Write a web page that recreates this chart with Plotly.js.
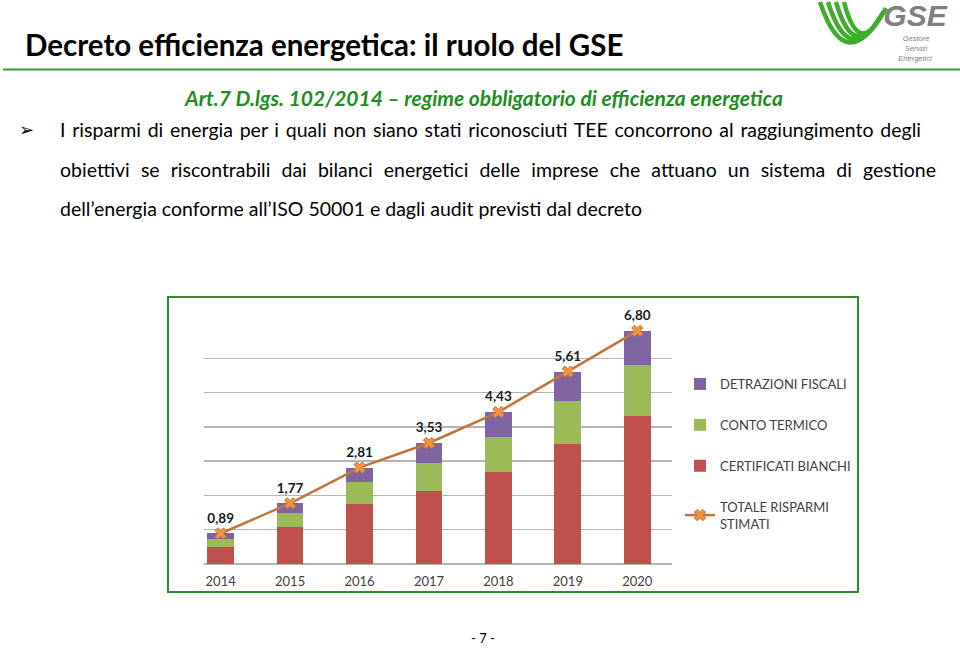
<!DOCTYPE html>
<html>
<head>
<meta charset="utf-8">
<script src="https://cdn.plot.ly/plotly-3.0.1.min.js"></script>
<style>
  html, body { margin: 0; padding: 0; background: #ffffff; }
  #page { position: relative; width: 960px; height: 648px; overflow: hidden; }
  #chart { position: absolute; left: 0; top: 0; width: 960px; height: 648px; }
  .txt { position: absolute; font-family: Lato, "Noto Sans", sans-serif; color: #000; white-space: nowrap; }
  .body { font-size: 19.5px; line-height: 20px; left: 60px; }
  .just { text-align: justify; text-align-last: justify; white-space: normal; }
  #logo { position: absolute; left: 0; top: 0; }
</style>
</head>
<body>
<div id="page">
  <div id="chart"></div>
  <svg id="logo" width="960" height="80" xmlns="http://www.w3.org/2000/svg">
    <line x1="3" y1="69.5" x2="960" y2="69.5" stroke="#3a9a3a" stroke-width="2"/>
    <g fill="none" stroke="#3fae2a" stroke-width="4.5" stroke-linecap="butt">
      <path d="M820,2 Q846,80 886,8"/>
      <path d="M828,2 Q850,72 884,11"/>
      <path d="M836,2 Q854,64 882,14"/>
      <path d="M844,2 Q858,56 880,17"/>
    </g>
    <text x="915" y="26" text-anchor="middle" font-family="Liberation Sans, Arial, sans-serif" font-weight="bold" font-style="italic" font-size="30" fill="#808080">GSE</text>
    <g font-family="Liberation Sans, Arial, sans-serif" font-style="italic" font-size="7.5" fill="#808080" text-anchor="middle">
      <text x="916" y="41">Gestore</text>
      <text x="916" y="51">Servizi</text>
      <text x="915" y="61">Energetici</text>
    </g>
  </svg>
  <div class="txt body" style="left:19px; top:120px; font-family:'DejaVu Sans'; font-size:18px;">&#10146;</div>
  <div class="txt body just" style="top:120px; width:861px;">I risparmi di energia per i quali non siano stati riconosciuti TEE concorrono al raggiungimento degli</div>
  <div class="txt body just" style="top:159.5px; width:876px;">obiettivi se riscontrabili dai bilanci energetici delle imprese che attuano un sistema di gestione</div>
  <div class="txt body" style="top:199px;">dell’energia conforme all’ISO 50001 e dagli audit previsti dal decreto</div>
</div>
<script>
// ---- data ----
const years = ["2014", "2015", "2016", "2017", "2018", "2019", "2020"];
const certificatiBianchi = [0.51, 1.07, 1.76, 2.12, 2.67, 3.51, 4.33];
const contoTermico = [0.22, 0.41, 0.62, 0.84, 1.04, 1.25, 1.48];
const detrazioniFiscali = [0.16, 0.29, 0.43, 0.57, 0.72, 0.85, 0.99];
const totaleRisparmi = [0.89, 1.77, 2.81, 3.53, 4.43, 5.61, 6.80];
const seriesNames = ["CERTIFICATI BIANCHI", "CONTO TERMICO", "DETRAZIONI FISCALI", "TOTALE RISPARMI<br>STIMATI"];

// ---- pixel helpers (plot area: x 204..672, y 324..564) ----
const L = 204, R = 672, T = 324, B = 564;
const px = v => (v - L) / (R - L);
const py = v => (B - v) / (B - T);

const font = "Lato, 'Noto Sans', sans-serif";

const traces = [
  { type: "bar", x: years, y: certificatiBianchi, name: seriesNames[0],
    marker: { color: "#C0504D" }, legendgroup: "a", legendrank: 3, hoverinfo: "skip" },
  { type: "bar", x: years, y: contoTermico, name: seriesNames[1],
    marker: { color: "#9BBB59" }, legendgroup: "b", legendrank: 2, hoverinfo: "skip" },
  { type: "bar", x: years, y: detrazioniFiscali, name: seriesNames[2],
    marker: { color: "#8064A2" }, legendgroup: "c", legendrank: 1, hoverinfo: "skip" },
  { type: "scatter", mode: "lines+markers+text", x: years, y: totaleRisparmi, name: seriesNames[3],
    line: { color: "#C0763A", width: 2.5 },
    marker: { symbol: "x", size: 10, color: "#F0943F", line: { color: "#C0763A", width: 1 } },
    texttemplate: "%{y:.2f}", textposition: "top center",
    textfont: { family: font, size: 13.5, color: "#1a1a1a", weight: "bold" },
    cliponaxis: false, legendgroup: "d", legendrank: 4, hoverinfo: "skip" }
];

const layout = {
  width: 960, height: 648,
  margin: { l: L, r: 960 - R, t: T, b: 648 - B, pad: 0 },
  paper_bgcolor: "#ffffff", plot_bgcolor: "#ffffff",
  separators: ",.",
  barmode: "stack",
  bargap: 0.615,
  font: { family: font, color: "#404040" },
  title: {
    text: "<b>Decreto efficienza energetica: il ruolo del GSE</b>",
    x: 25 / 960, xanchor: "left", xref: "container",
    y: 1 - 46 / 648, yanchor: "middle", yref: "container",
    font: { family: font, size: 29.5, color: "#000000" }
  },
  xaxis: {
    type: "category", range: [-0.24, 6.5], showgrid: false, zeroline: false,
    showline: false, ticks: "", ticklabelstandoff: 8,
    tickfont: { family: font, size: 13, color: "#404040" }, fixedrange: true
  },
  yaxis: {
    range: [0, 7], dtick: 1, showgrid: true, gridcolor: "#B4B4B4", gridwidth: 1.3,
    zeroline: true, zerolinecolor: "#B4B4B4", zerolinewidth: 1.3,
    showticklabels: false, ticks: "", fixedrange: true
  },
  showlegend: true,
  legend: {
    x: px(680), y: py(369), xanchor: "left", yanchor: "top",
    traceorder: "grouped", tracegroupgap: 21, itemwidth: 30,
    font: { family: font, size: 13, color: "#404040" },
    bgcolor: "rgba(0,0,0,0)"
  },
  shapes: [
    { type: "rect", xref: "paper", yref: "paper",
      x0: px(168), x1: px(858), y0: py(592), y1: py(297),
      line: { color: "#2E8B2E", width: 2 }, fillcolor: "rgba(0,0,0,0)", layer: "below" }
  ],
  annotations: [
    { xref: "paper", yref: "paper", x: px(483), y: py(97), xanchor: "center", yanchor: "middle",
      text: "<b><i>Art.7 D.lgs. 102/2014 – regime obbligatorio di efficienza energetica</i></b>",
      showarrow: false, font: { family: font, size: 21, color: "#1E8C1E" } },
    { xref: "paper", yref: "paper", x: px(483), y: py(638), xanchor: "center", yanchor: "middle",
      text: "- 7 -", showarrow: false, font: { family: font, size: 13, color: "#000000" } }
  ]
};

Plotly.newPlot("chart", traces, layout, { displayModeBar: false, staticPlot: true });
</script>
</body>
</html>
